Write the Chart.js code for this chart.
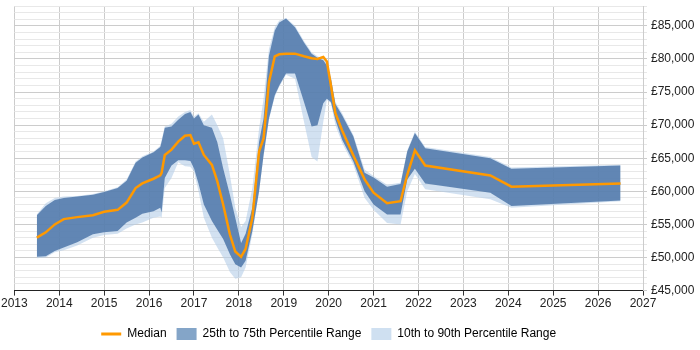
<!DOCTYPE html>
<html>
<head>
<meta charset="utf-8">
<script src="https://cdn.jsdelivr.net/npm/chart.js@4.4.0/dist/chart.umd.min.js"></script>
<style>
  html, body { margin: 0; padding: 0; background: #fff; }
  #wrap { width: 700px; height: 350px; }
</style>
</head>
<body>
<div id="wrap"><canvas id="c" width="700" height="350"></canvas></div>
<script>
// Dates as decimal years
const dates = [2013.5, 2013.7, 2013.9, 2014.1, 2014.4, 2014.75, 2015.0, 2015.3, 2015.5, 2015.7, 2015.85, 2016.1, 2016.25, 2016.28, 2016.35, 2016.5, 2016.65, 2016.8, 2016.92, 2017.0, 2017.1, 2017.22, 2017.4, 2017.52, 2017.65, 2017.8, 2017.92, 2018.05, 2018.15, 2018.3, 2018.45, 2018.55, 2018.67, 2018.8, 2018.9, 2019.05, 2019.25, 2019.45, 2019.62, 2019.75, 2019.88, 2019.96, 2020.05, 2020.15, 2020.3, 2020.55, 2020.8, 2021.0, 2021.3, 2021.6, 2021.75, 2021.92, 2022.15, 2023.6, 2024.07, 2026.5];

// Values in £ thousands
const median = [53.0, 53.8, 55.0, 55.8, 56.1, 56.4, 56.9, 57.2, 58.3, 60.5, 61.2, 61.9, 62.4, 62.8, 65.5, 66.3, 67.5, 68.4, 68.5, 67.2, 67.4, 65.5, 64.0, 61.5, 58.0, 53.5, 50.9, 50.1, 51.3, 56.0, 66.0, 68.0, 76.5, 80.4, 80.7, 80.8, 80.8, 80.4, 80.1, 80.0, 80.3, 79.6, 76.0, 71.8, 69.2, 65.4, 61.8, 59.8, 58.2, 58.5, 62.5, 66.2, 63.9, 62.4, 60.7, 61.2];
const p75 = [56.4, 57.8, 58.7, 59.0, 59.2, 59.5, 59.9, 60.5, 61.6, 64.3, 65.1, 65.9, 66.7, 67.5, 69.6, 69.8, 70.8, 71.7, 72.0, 71.0, 71.6, 70.0, 69.6, 67.4, 63.5, 59.5, 56.0, 52.2, 53.6, 57.5, 67.5, 71.0, 80.5, 84.3, 85.5, 86.1, 84.8, 82.5, 80.8, 80.2, 79.8, 79.0, 77.0, 73.2, 71.5, 68.3, 62.8, 62.1, 60.7, 61.1, 66.0, 68.8, 66.5, 65.0, 63.4, 63.9];
const p25 = [50.1, 50.2, 51.0, 51.5, 52.3, 53.5, 53.8, 54.0, 55.3, 56.0, 56.6, 57.0, 57.5, 56.8, 62.0, 63.9, 64.7, 64.7, 64.6, 63.5, 61.2, 58.0, 55.5, 54.2, 52.8, 50.5, 49.0, 48.5, 49.5, 54.0, 60.0, 65.5, 71.0, 74.5, 76.0, 77.8, 77.8, 73.5, 69.8, 70.0, 73.3, 74.0, 73.5, 70.8, 67.8, 64.5, 60.0, 58.0, 56.5, 56.5, 61.8, 63.4, 61.2, 59.8, 57.8, 58.6];
const p90 = [56.5, 58.2, 59.0, 59.2, 59.3, 59.6, 60.0, 60.6, 61.8, 64.5, 65.3, 66.0, 66.9, 67.8, 69.8, 70.2, 71.3, 72.0, 72.3, 71.3, 71.8, 70.5, 71.6, 70.0, 68.0, 62.5, 57.5, 54.6, 55.5, 60.5, 69.5, 74.0, 81.5, 84.8, 85.8, 86.2, 85.0, 82.7, 81.0, 80.4, 80.0, 79.3, 77.3, 73.5, 71.8, 68.5, 63.3, 62.3, 61.0, 61.3, 66.2, 69.0, 66.7, 65.2, 63.6, 64.0];
const p10 = [49.9, 50.0, 50.8, 51.1, 51.8, 53.0, 53.4, 53.6, 54.4, 55.0, 55.3, 56.0, 56.2, 56.0, 60.5, 62.0, 64.4, 63.8, 63.7, 63.0, 60.0, 56.0, 53.0, 51.5, 50.0, 47.8, 46.8, 47.0, 48.5, 53.5, 60.0, 65.3, 70.8, 74.3, 75.8, 77.6, 77.0, 70.5, 65.2, 64.5, 70.5, 73.8, 73.3, 70.0, 67.3, 64.0, 59.0, 57.2, 55.2, 55.0, 60.0, 62.6, 60.3, 58.8, 57.5, 58.5];

const xTicksMin = 2013, xTicksMax = 2027;
const yMin = 45000, yMax = 88000;

const pts = arr => arr.map((v, i) => ({ x: dates[i], y: v * 1000 }));

const DARK = 'rgba(70,113,165,0.8)';
const LIGHT = 'rgba(180,205,232,0.6)';
const ORANGE = '#ff9900';

// Center the legend under the plot area, as in the reference
const centerLegend = {
  id: 'centerLegend',
  afterLayout(chart) {
    if (chart.legend && chart.chartArea) {
      chart.legend.left = chart.chartArea.left;
      chart.legend.right = chart.chartArea.right;
    }
  }
};

new Chart(document.getElementById('c'), {
  type: 'line',
  data: {
    datasets: [
      { label: 'Median', data: pts(median), borderColor: ORANGE, borderWidth: 2.5, pointRadius: 0, fill: false, tension: 0 },
      { label: '25th to 75th Percentile Range', data: pts(p75), borderWidth: 0, borderColor: 'rgba(0,0,0,0)', backgroundColor: DARK, pointRadius: 0, fill: 2, tension: 0 },
      { label: 'p25', data: pts(p25), borderWidth: 0, borderColor: 'rgba(0,0,0,0)', pointRadius: 0, fill: false, tension: 0 },
      { label: '10th to 90th Percentile Range', data: pts(p90), borderWidth: 0, borderColor: 'rgba(0,0,0,0)', backgroundColor: LIGHT, pointRadius: 0, fill: 4, tension: 0 },
      { label: 'p10', data: pts(p10), borderWidth: 0, borderColor: 'rgba(0,0,0,0)', pointRadius: 0, fill: false, tension: 0 }
    ]
  },
  plugins: [centerLegend],
  options: {
    responsive: false,
    animation: false,
    devicePixelRatio: 1,
    layout: { padding: { left: 2, right: 0, top: 6, bottom: 0 } },
    plugins: {
      tooltip: { enabled: false },
      legend: {
        position: 'bottom',
        labels: {
          usePointStyle: true,
          pointStyleWidth: 20,
          boxHeight: 12,
          padding: 10,
          color: '#222',
          font: { family: 'Liberation Sans, Arial, sans-serif', size: 12 },
          generateLabels: chart => [
            { text: 'Median', fillStyle: ORANGE, strokeStyle: ORANGE, lineWidth: 3, pointStyle: 'line', datasetIndex: 0 },
            { text: '25th to 75th Percentile Range', fillStyle: '#84a5c8', strokeStyle: '#84a5c8', lineWidth: 0, pointStyle: 'rect', datasetIndex: 1 },
            { text: '10th to 90th Percentile Range', fillStyle: '#cfe0f1', strokeStyle: '#cfe0f1', lineWidth: 0, pointStyle: 'rect', datasetIndex: 3 }
          ]
        }
      }
    },
    scales: {
      x: {
        type: 'linear',
        min: xTicksMin,
        max: xTicksMax,
        afterFit: s => { s.height += 6; },
        ticks: {
          stepSize: 1,
          autoSkip: false,
          maxRotation: 0,
          padding: 1,
          color: '#222',
          font: { family: 'Liberation Sans, Arial, sans-serif', size: 12 },
          callback: v => String(v)
        },
        grid: { color: '#cccccc', tickLength: 5, tickColor: '#333' },
        border: { color: '#222' }
      },
      y: {
        position: 'right',
        min: yMin,
        max: yMax,
        afterFit: s => { s.width = 57; s.paddingTop = 0; s.paddingBottom = 0; },
        ticks: {
          stepSize: 1000,
          autoSkip: false,
          color: '#222',
          padding: 4,
          font: { family: 'Liberation Sans, Arial, sans-serif', size: 12 },
          callback: v => (v % 5000 === 0) ? '£' + v.toLocaleString('en-GB') : ''
        },
        grid: {
          color: ctx => (ctx.tick && ctx.tick.value % 5000 === 0) ? '#cccccc' : '#e8e8e8',
          tickLength: 4
        },
        border: { color: '#cccccc' }
      }
    }
  }
});
</script>
</body>
</html>
